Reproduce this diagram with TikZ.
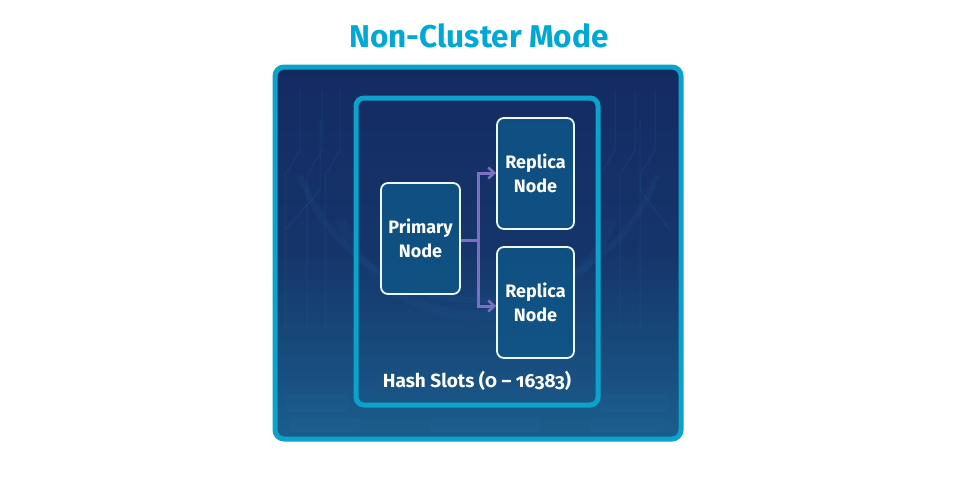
\documentclass[tikz,border=0pt]{standalone}
\usepackage{fontspec}
\setmainfont{Fira Sans}[Numbers=OldStyle]
\usetikzlibrary{arrows.meta,shadings}
\definecolor{titlecol}{HTML}{00A8D6}
\definecolor{framecol}{HTML}{0BA3CB}
\definecolor{bgtop}{HTML}{142B62}
\definecolor{bgbot}{HTML}{1A5E8C}
\definecolor{nodefill}{HTML}{0F5586}
\definecolor{arrowcol}{HTML}{7C70C2}
\definecolor{circ}{HTML}{2A6AA8}
\tikzset{
  nodebox/.style={draw=white!92!cyan, line width=1.8pt, rounded corners=7pt, fill=nodefill, fill opacity=0.85, text opacity=1, text=white, align=center, font=\fontsize{18}{24}\selectfont\bfseries, inner sep=0pt},
  frame/.style={draw=framecol, rounded corners=9pt},
  link/.style={draw=arrowcol, line width=3pt, -{Straight Barb[length=6pt,width=11pt,line width=2.5pt]}},
  circuit/.style={draw=circ, line width=1pt, opacity=0.18}
}
\begin{document}
\begin{tikzpicture}[x=1pt,y=-1pt]
\useasboundingbox (0,0) rectangle (958,479);
\fill[white] (0,0) rectangle (958,479);
% title
\node[text=titlecol, font=\fontsize{31.5}{36}\selectfont\bfseries] (title) at (479,36) {Non-Cluster Mode};
% outer background
\shade[top color=bgtop, bottom color=bgbot, middle color=bgtop!80!bgbot, rounded corners=9pt] (275,67) rectangle (681,439);
% faint circuit decorations
\begin{scope}
\clip[rounded corners=9pt] (275,67) rectangle (681,439);
\foreach \x in {300,322,340,615,635,655} {\draw[circuit] (\x,90) -- (\x,150) -- (\x-15,175) -- (\x-15,330);}
\draw[circuit] (285,230) -- (320,190) -- (320,120);
\draw[circuit] (670,230) -- (640,190) -- (640,120);
\draw[circuit, line width=6pt, opacity=0.1] (300,175) arc[start angle=160, end angle=20, radius=190];
\draw[circuit, line width=10pt, opacity=0.08] (340,220) arc[start angle=160, end angle=20, radius=145];
\fill[circ, opacity=0.15, rounded corners=4pt] (285,395) rectangle (350,412);
\fill[circ, opacity=0.15, rounded corners=4pt] (290,418) rectangle (360,432);
\fill[circ, opacity=0.15, rounded corners=4pt] (600,395) rectangle (670,412);
\fill[circ, opacity=0.15, rounded corners=4pt] (590,418) rectangle (665,432);
\fill[circ, opacity=0.15, rounded corners=4pt] (430,418) rectangle (540,432);
\end{scope}
\draw[frame, line width=5pt] (275,67) rectangle (681,439);
% inner frame
\draw[frame, line width=5pt, rounded corners=8pt] (356,98) rectangle (598,405);
% nodes
\node[nodebox, minimum width=79pt, minimum height=111pt] (primary) at (420.5,238.5) {Primary\\Node};
\node[nodebox, minimum width=77pt, minimum height=111pt] (rep1) at (535.5,173.5) {Replica\\Node};
\node[nodebox, minimum width=77pt, minimum height=111pt] (rep2) at (535.5,302.5) {Replica\\Node};
\coordinate (split) at (478,240);
\draw[draw=arrowcol, line width=3pt] (primary.east |- split) -- (split);
\draw[link] (split) |- (rep1.west |- 0,173);
\draw[link] (split) |- (rep2.west |- 0,306);
% label
\node[text=white, font=\fontsize{19}{22}\selectfont\bfseries] (hash) at (477,381) {Hash Slots (0 – 16383)};
\end{tikzpicture}
\end{document}
